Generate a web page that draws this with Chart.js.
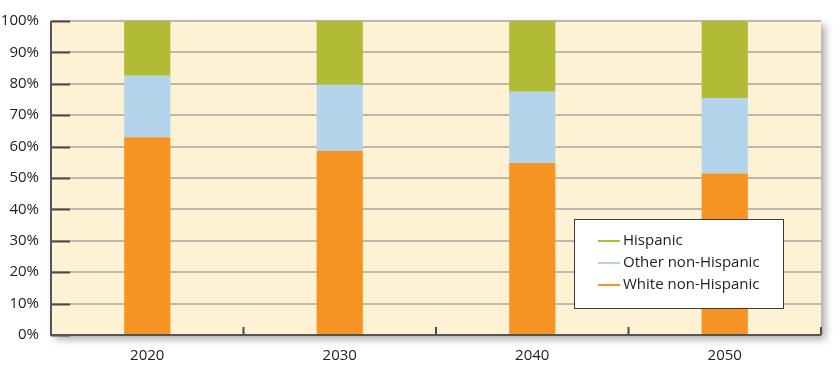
<!DOCTYPE html>
<html>
<head>
<meta charset="utf-8">
<script src="https://cdn.jsdelivr.net/npm/chart.js@4"></script>
<style>
  html, body { margin: 0; padding: 0; background: #fff; }
  #wrap { width: 840px; height: 366px; }
</style>
</head>
<body>
<div id="wrap"><canvas id="c" width="840" height="366"></canvas></div>
<script>
const years = ["2020", "2030", "2040", "2050"];
const white = [63.0, 58.6, 54.8, 51.4];
const other = [19.6, 21.1, 22.7, 24.1];
const hispanic = [17.4, 20.3, 22.5, 24.5];
const yTicks = [0, 10, 20, 30, 40, 50, 60, 70, 80, 90, 100];

const font = "'Myriad Pro', 'Open Sans', 'DejaVu Sans', sans-serif";

// plot background with soft shadow
const plotBg = {
  id: "plotBg",
  beforeDraw(chart) {
    const { ctx, chartArea: a } = chart;
    ctx.save();
    ctx.shadowColor = "rgba(0,0,0,0.35)";
    ctx.shadowBlur = 8;
    ctx.shadowOffsetX = 4;
    ctx.shadowOffsetY = 4;
    ctx.fillStyle = "#fef1d4";
    ctx.fillRect(a.left, a.top, a.right - a.left, a.bottom - a.top);
    ctx.restore();
  },
};

// inside tick marks + axis lines
const axisMarks = {
  id: "axisMarks",
  afterDatasetsDraw(chart) {
    const { ctx, chartArea: a, scales } = chart;
    ctx.save();
    ctx.strokeStyle = "#4a4a4a";
    ctx.lineWidth = 2;
    ctx.beginPath();
    yTicks.forEach((v) => {
      const y = Math.round(scales.y.getPixelForValue(v)) + 0.5;
      ctx.moveTo(a.left, y);
      ctx.lineTo(a.left + 19, y);
    });
    const n = years.length;
    for (let i = 1; i <= n; i++) {
      let x;
      if (i < n) x = (scales.x.getPixelForTick(i - 1) + scales.x.getPixelForTick(i)) / 2;
      else x = a.right;
      ctx.moveTo(x, a.bottom);
      ctx.lineTo(x, a.bottom - 8);
    }
    ctx.stroke();
    ctx.strokeStyle = "#555";
    ctx.lineWidth = 2;
    ctx.beginPath();
    ctx.moveTo(a.left, a.top);
    ctx.lineTo(a.left, a.bottom);
    ctx.lineTo(a.right, a.bottom);
    ctx.stroke();
    ctx.restore();
  },
};

// boxed legend inside the plot, reversed order, line symbols
const boxLegend = {
  id: "boxLegend",
  afterDraw(chart) {
    const { ctx } = chart;
    const items = chart.data.datasets.slice().reverse();
    const x0 = 574, y0 = 219, w = 209, h = 89;
    ctx.save();
    ctx.fillStyle = "#fff";
    ctx.fillRect(x0, y0, w, h);
    ctx.strokeStyle = "#3a3a3a";
    ctx.lineWidth = 1;
    ctx.strokeRect(x0 + 0.5, y0 + 0.5, w, h);
    ctx.font = "15px " + font;
    ctx.textBaseline = "middle";
    items.forEach((ds, i) => {
      const y = y0 + 22 + i * 22;
      ctx.strokeStyle = ds.backgroundColor;
      ctx.lineWidth = 2;
      ctx.beginPath();
      ctx.moveTo(x0 + 24, y);
      ctx.lineTo(x0 + 46, y);
      ctx.stroke();
      ctx.fillStyle = "#222";
      ctx.fillText(ds.label, x0 + 49, y);
    });
    ctx.restore();
  },
};

new Chart(document.getElementById("c"), {
  type: "bar",
  data: {
    labels: years,
    datasets: [
      { label: "White non-Hispanic", data: white, backgroundColor: "#f69423" },
      { label: "Other non-Hispanic", data: other, backgroundColor: "#b4d4eb" },
      { label: "Hispanic", data: hispanic, backgroundColor: "#b2bb35" },
    ],
  },
  options: {
    responsive: false,
    animation: false,
    layout: { padding: { top: 16, right: 19, left: 0, bottom: 0 } },
    datasets: { bar: { barPercentage: 1, categoryPercentage: 0.24 } },
    plugins: { legend: { display: false }, tooltip: { enabled: false } },
    scales: {
      x: {
        stacked: true,
        grid: { display: false, drawTicks: false },
        border: { display: false },
        ticks: { color: "#222", font: { family: font, size: 15 }, padding: 12 },
        afterFit(s) { s.height = 31; },
      },
      y: {
        stacked: true,
        min: 0,
        max: 100,
        afterBuildTicks(s) { s.ticks = yTicks.map((v) => ({ value: v })); },
        grid: { color: "#bcb8b0", lineWidth: 2, drawTicks: false },
        border: { display: false },
        ticks: {
          color: "#222",
          font: { family: font, size: 15 },
          padding: 12,
          callback: (v) => v + "%",
        },
        afterFit(s) { s.width = 51; },
      },
    },
  },
  plugins: [plotBg, axisMarks, boxLegend],
});
</script>
</body>
</html>
